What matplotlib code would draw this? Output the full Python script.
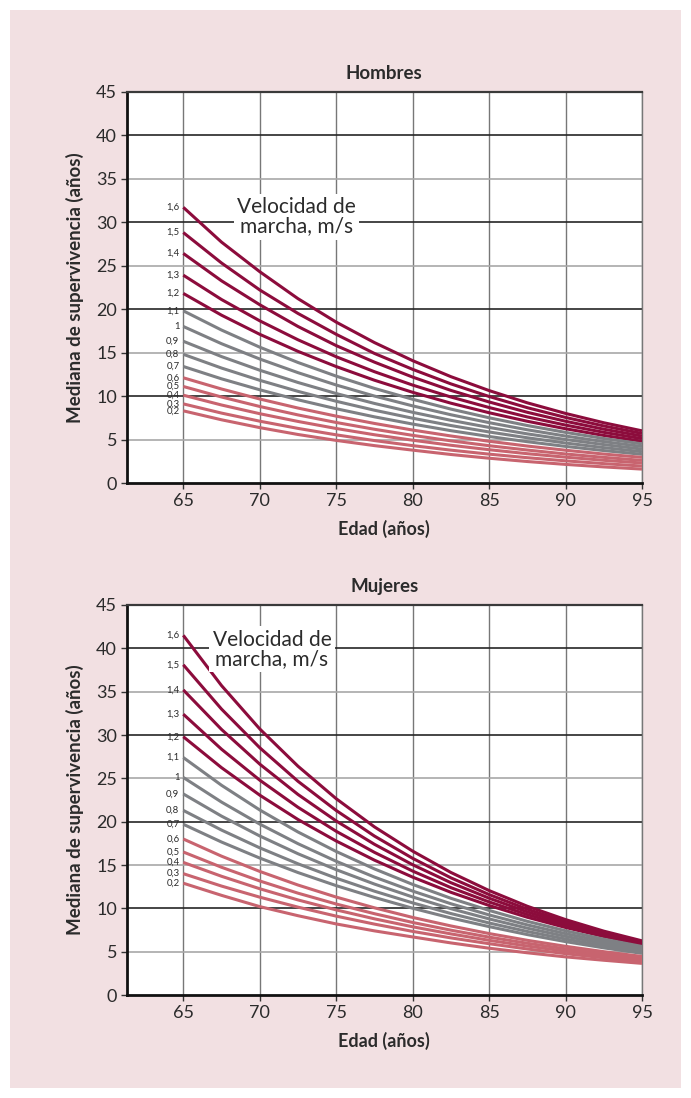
import numpy as np
import matplotlib.pyplot as plt

ages = [65, 67.5, 70, 72.5, 75, 77.5, 80, 82.5, 85, 87.5, 90, 92.5, 95]
speeds = ['1,6', '1,5', '1,4', '1,3', '1,2', '1,1', '1', '0,9', '0,8', '0,7',
          '0,6', '0,5', '0,4', '0,3', '0,2']

# Hombres: median survival (years) per walking speed
men_16 = [31.7, 27.7, 24.3, 21.2, 18.5, 16.15, 14.07, 12.23, 10.63, 9.22, 8.0, 6.93, 6.0]
men_15 = [28.8, 25.3, 22.2, 19.5, 17.1, 14.9, 13.07, 11.4, 9.95, 8.66, 7.54, 6.56, 5.7]
men_14 = [26.4, 23.25, 20.5, 18.0, 15.8, 13.9, 12.18, 10.65, 9.32, 8.13, 7.1, 6.19, 5.4]
men_13 = [23.9, 21.1, 18.65, 16.47, 14.52, 12.8, 11.26, 9.89, 8.68, 7.6, 6.66, 5.83, 5.1]
men_12 = [21.8, 19.3, 17.1, 15.14, 13.39, 11.82, 10.43, 9.18, 8.08, 7.1, 6.24, 5.47, 4.8]
men_11 = [19.8, 17.59, 15.62, 13.86, 12.29, 10.88, 9.63, 8.5, 7.5, 6.61, 5.82, 5.12, 4.5]
men_10 = [18.0, 16.02, 14.26, 12.69, 11.27, 10.0, 8.87, 7.85, 6.94, 6.12, 5.4, 4.76, 4.2]
men_09 = [16.3, 14.54, 12.97, 11.56, 10.29, 9.15, 8.13, 7.21, 6.39, 5.65, 5.0, 4.42, 3.9]
men_08 = [14.8, 13.22, 11.81, 10.54, 9.4, 8.37, 7.45, 6.61, 5.87, 5.2, 4.6, 4.07, 3.6]
men_07 = [13.4, 11.98, 10.72, 9.57, 8.54, 7.61, 6.78, 6.02, 5.35, 4.75, 4.21, 3.73, 3.3]
men_06 = [12.1, 10.81, 9.66, 8.62, 7.69, 6.85, 6.09, 5.41, 4.8, 4.25, 3.77, 3.33, 2.95]
men_05 = [11.1, 9.89, 8.8, 7.83, 6.96, 6.18, 5.48, 4.85, 4.29, 3.79, 3.34, 2.95, 2.6]
men_04 = [10.1, 8.97, 7.97, 7.08, 6.27, 5.55, 4.92, 4.34, 3.83, 3.37, 2.97, 2.61, 2.3]
men_03 = [9.1, 8.04, 7.11, 6.28, 5.54, 4.88, 4.3, 3.78, 3.32, 2.91, 2.55, 2.23, 1.95]
men_02 = [8.3, 7.27, 6.37, 5.58, 4.9, 4.3, 3.78, 3.28, 2.85, 2.47, 2.14, 1.85, 1.6]

# Mujeres
wom_16 = [41.5, 35.7, 30.7, 26.4, 22.65, 19.4, 16.6, 14.14, 12.05, 10.24, 8.7, 7.37, 6.25]
wom_15 = [38.1, 32.99, 28.53, 24.66, 21.29, 18.34, 15.77, 13.52, 11.59, 9.9, 8.46, 7.21, 6.15]
wom_14 = [35.2, 30.64, 26.64, 23.14, 20.08, 17.39, 15.03, 12.96, 11.17, 9.59, 8.24, 7.06, 6.05]
wom_13 = [32.4, 28.36, 24.79, 21.66, 18.89, 16.46, 14.3, 12.39, 10.74, 9.28, 8.01, 6.9, 5.95]
wom_12 = [29.8, 26.23, 23.06, 20.25, 17.77, 15.56, 13.6, 11.85, 10.33, 8.97, 7.79, 6.75, 5.85]
wom_11 = [27.4, 24.2, 21.35, 18.81, 16.56, 14.55, 12.76, 11.16, 9.76, 8.5, 7.41, 6.44, 5.6]
wom_10 = [25.1, 22.26, 19.72, 17.46, 15.43, 13.61, 11.99, 10.53, 9.24, 8.09, 7.08, 6.18, 5.4]
wom_09 = [23.2, 20.64, 18.35, 16.3, 14.46, 12.8, 11.31, 9.96, 8.78, 7.71, 6.77, 5.93, 5.2]
wom_08 = [21.3, 19.03, 16.98, 15.14, 13.48, 11.98, 10.63, 9.4, 8.31, 7.33, 6.46, 5.68, 5.0]
wom_07 = [19.7, 17.65, 15.8, 14.13, 12.62, 11.26, 10.01, 8.89, 7.89, 6.97, 6.16, 5.44, 4.8]
wom_06 = [18.0, 16.02, 14.26, 12.69, 11.3, 10.06, 8.95, 7.97, 7.09, 6.31, 5.62, 5.0, 4.45]
wom_05 = [16.5, 14.74, 13.16, 11.75, 10.5, 9.38, 8.37, 7.48, 6.68, 5.97, 5.33, 4.76, 4.25]
wom_04 = [15.3, 13.7, 12.26, 10.97, 9.82, 8.79, 7.87, 7.05, 6.31, 5.65, 5.06, 4.53, 4.05]
wom_03 = [14.0, 12.57, 11.29, 10.14, 9.1, 8.18, 7.34, 6.59, 5.92, 5.31, 4.77, 4.29, 3.85]
wom_02 = [12.9, 11.5, 10.2, 9.15, 8.2, 7.4, 6.7, 6.01, 5.4, 4.87, 4.4, 4.01, 3.65]

men = [men_16, men_15, men_14, men_13, men_12, men_11, men_10, men_09,
       men_08, men_07, men_06, men_05, men_04, men_03, men_02]
women = [wom_16, wom_15, wom_14, wom_13, wom_12, wom_11, wom_10, wom_09,
         wom_08, wom_07, wom_06, wom_05, wom_04, wom_03, wom_02]

RED = '#8c0c3c'
GREY = '#7e8084'
PINK = '#c8646f'
colors = [RED] * 5 + [GREY] * 5 + [PINK] * 5

BG = '#f2e0e2'
TXT = '#2b2b2b'

plt.rcParams['font.family'] = ['Lato', 'DejaVu Sans']

fig = plt.figure(figsize=(6.91, 10.98), dpi=100)
fig.patch.set_facecolor('white')
fig.patches.append(plt.Rectangle((10 / 691, 10 / 1098), 671 / 691, 1078 / 1098,
                                 transform=fig.transFigure, facecolor=BG,
                                 edgecolor='none', zorder=-10))

panels = [
    ('Hombres', men, [0.1834, 0.5601, 0.7457, 0.3564], (72.4, 30.6)),
    ('Mujeres', women, [0.1834, 0.0938, 0.7457, 0.3552], (70.8, 39.9)),
]

for title, series, rect, note_xy in panels:
    ax = fig.add_axes(rect)
    ax.set_facecolor('white')
    ax.set_xlim(61.3, 95)
    ax.set_ylim(0, 45)

    # grid
    for x in range(65, 96, 5):
        ax.axvline(x, color='#777777', lw=1.0, zorder=1)
    for y in range(5, 45, 5):
        if y % 10 == 0:
            ax.axhline(y, color='#262626', lw=1.2, zorder=1)
        else:
            ax.axhline(y, color='#a8a8a8', lw=1.2, zorder=1)

    for vals, lab, col in zip(series, speeds, colors):
        ax.plot(ages, vals, color=col, lw=2.2, solid_capstyle='butt', zorder=3)
        ax.text(64.75, vals[0], lab, ha='right', va='center', fontsize=6.8,
                color=TXT, zorder=4)

    ax.text(note_xy[0], note_xy[1], 'Velocidad de\nmarcha, m/s', ha='center',
            va='center', fontsize=15, color=TXT, linespacing=0.95, zorder=5,
            bbox=dict(facecolor='white', edgecolor='none', pad=2.5))

    ax.set_xticks(range(65, 96, 5))
    ax.set_yticks(range(0, 46, 5))
    ax.tick_params(axis='both', direction='out', length=4, width=1,
                   color='#333333', labelsize=13, labelcolor=TXT, pad=3)
    for side in ('left', 'bottom'):
        ax.spines[side].set_linewidth(2)
        ax.spines[side].set_color('#111111')
    ax.spines['top'].set_linewidth(1.6)
    ax.spines['top'].set_color('#3a3a3a')
    ax.spines['right'].set_linewidth(1.0)
    ax.spines['right'].set_color('#777777')

    ax.set_title(title, fontsize=13.5, fontweight='bold', color=TXT, pad=9)
    ax.set_xlabel('Edad (años)', fontsize=13, fontweight='bold', color=TXT,
                  labelpad=8)
    ax.set_ylabel('Mediana de supervivencia (años)', fontsize=13.5,
                  fontweight='bold', color=TXT, labelpad=9)

fig.savefig('out.png', dpi=100, facecolor='white')
